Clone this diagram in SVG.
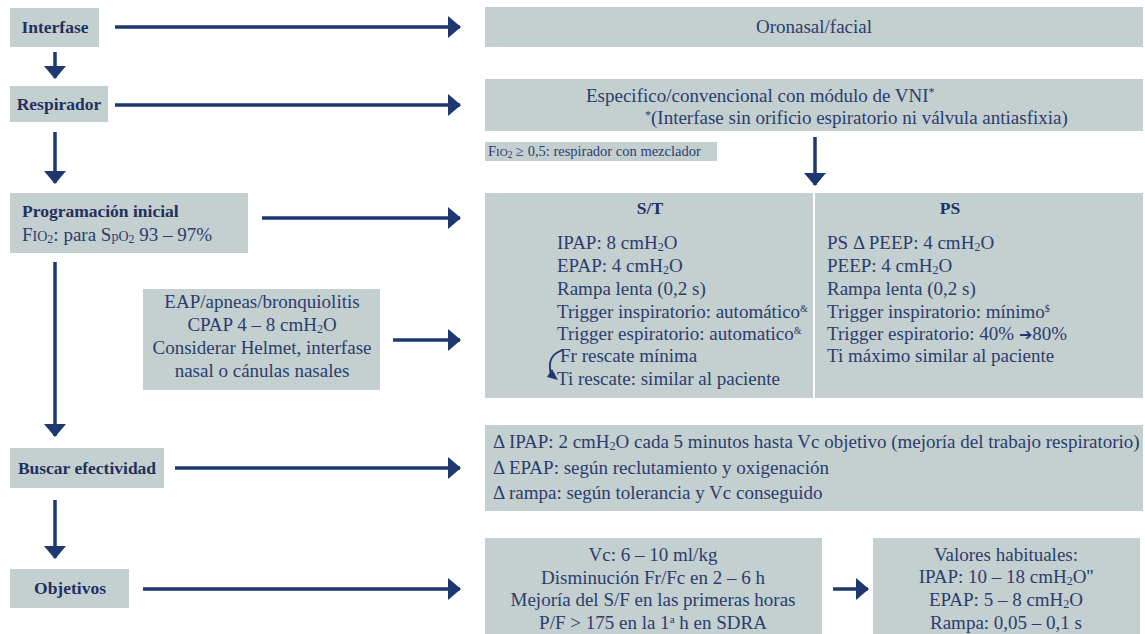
<svg xmlns="http://www.w3.org/2000/svg" width="1145" height="634" viewBox="0 0 1145 634">
<defs>
<marker id="ah" viewBox="0 0 13 22" refX="12" refY="11" markerWidth="13" markerHeight="22" markerUnits="userSpaceOnUse" orient="auto">
<path d="M0,0 L13,11 L0,22 z" fill="#1e3770"/>
</marker>
</defs>
<rect width="1145" height="634" fill="#ffffff"/>
<g font-family="Liberation Serif" font-size="19" fill="#2b3d6e">
<g id="n-interfase">
<rect fill="#c4cfcf" x="10" y="8" width="89" height="39"/>
<text font-size="17.5" font-weight="bold" fill="#1f315f" text-anchor="middle" x="55" y="33">Interfase</text>
</g>
<g id="n-respirador">
<rect fill="#c4cfcf" x="10" y="86" width="98" height="36"/>
<text font-size="17.5" font-weight="bold" fill="#1f315f" text-anchor="middle" x="59" y="110">Respirador</text>
</g>
<g id="n-programacion">
<rect fill="#c4cfcf" x="10" y="193" width="238" height="60"/>
<text font-size="17.5" font-weight="bold" fill="#1f315f" x="22" y="217">Programación inicial</text>
<text x="22" y="241">F<tspan font-size="14">IO</tspan><tspan font-size="12" dy="2">2</tspan><tspan dy="-2">: para S</tspan><tspan font-size="14">pO</tspan><tspan font-size="12" dy="2">2</tspan><tspan dy="-2"> 93 – 97%</tspan></text>
</g>
<g id="n-eap" text-anchor="middle">
<rect fill="#c4cfcf" x="143" y="289" width="237" height="101"/>
<text x="262" y="308">EAP/apneas/bronquiolitis</text>
<text x="262" y="331">CPAP 4 – 8 cmH<tspan font-size="12" dy="2">2</tspan><tspan dy="-2">O</tspan></text>
<text x="262" y="354">Considerar Helmet, interfase</text>
<text x="262" y="377">nasal o cánulas nasales</text>
</g>
<g id="n-buscar">
<rect fill="#c4cfcf" x="10" y="448" width="154" height="40"/>
<text font-size="17.5" font-weight="bold" fill="#1f315f" text-anchor="middle" x="87" y="474">Buscar efectividad</text>
</g>
<g id="n-objetivos">
<rect fill="#c4cfcf" x="10" y="569" width="119" height="39"/>
<text font-size="17.5" font-weight="bold" fill="#1f315f" text-anchor="middle" x="70" y="594">Objetivos</text>
</g>

<g id="n-oronasal">
<rect fill="#c4cfcf" x="485" y="7" width="658" height="40"/>
<text text-anchor="middle" x="814" y="33">Oronasal/facial</text>
</g>
<g id="n-especifico">
<rect fill="#c4cfcf" x="485" y="79" width="658" height="52"/>
<text x="586" y="102">Especifico/convencional con módulo de VNI<tspan font-size="12" dy="-6">*</tspan></text>
<text x="645" y="124"><tspan font-size="12" dy="-5">*</tspan><tspan dy="5">(Interfase sin orificio espiratorio ni válvula antiasfixia)</tspan></text>
</g>
<g id="n-fio2">
<rect fill="#c4cfcf" x="485" y="142" width="232" height="19"/>
<text font-size="14.5" x="488" y="156">F<tspan font-size="11">IO</tspan><tspan font-size="9.5" dy="2">2</tspan><tspan dy="-2"> ≥ 0,5: respirador con mezclador</tspan></text>
</g>
<g id="n-st">
<rect fill="#c4cfcf" x="485" y="193" width="328" height="205"/>
<text font-size="17.5" font-weight="bold" fill="#1f315f" text-anchor="middle" x="650" y="214">S/T</text>
<text x="557" y="249">IPAP: 8 cmH<tspan font-size="12" dy="2">2</tspan><tspan dy="-2">O</tspan></text>
<text x="557" y="272">EPAP: 4 cmH<tspan font-size="12" dy="2">2</tspan><tspan dy="-2">O</tspan></text>
<text x="557" y="295">Rampa lenta (0,2 s)</text>
<text x="557" y="318">Trigger inspiratorio: automático<tspan font-size="10" dy="-6">&amp;</tspan></text>
<text x="557" y="340">Trigger espiratorio: automatico<tspan font-size="10" dy="-6">&amp;</tspan></text>
<text x="560" y="362">Fr rescate mínima</text>
<text x="557" y="385">Ti rescate: similar al paciente</text>
<path d="M563,350 Q546,355 551,374" stroke="#1e3770" stroke-width="1.8" fill="none"/>
<polygon points="558,380 547,377 552,369" fill="#1e3770"/>
</g>
<g id="n-ps">
<rect fill="#c4cfcf" x="815" y="193" width="328" height="205"/>
<text font-size="17.5" font-weight="bold" fill="#1f315f" text-anchor="middle" x="950" y="214">PS</text>
<text x="827" y="249">PS Δ PEEP: 4 cmH<tspan font-size="12" dy="2">2</tspan><tspan dy="-2">O</tspan></text>
<text x="827" y="272">PEEP: 4 cmH<tspan font-size="12" dy="2">2</tspan><tspan dy="-2">O</tspan></text>
<text x="827" y="295">Rampa lenta (0,2 s)</text>
<text x="827" y="318">Trigger inspiratorio: mínimo<tspan font-size="10" dy="-6">$</tspan></text>
<text x="827" y="340">Trigger espiratorio: 40% <tspan font-family="DejaVu Sans" font-size="16" fill="#1e3770">➔</tspan>80%</text>
<text x="827" y="362">Ti máximo similar al paciente</text>
</g>
<g id="n-efectividad">
<rect fill="#c4cfcf" x="485" y="425" width="658" height="86"/>
<text x="493" y="448">Δ IPAP: 2 cmH<tspan font-size="12" dy="2">2</tspan><tspan dy="-2">O cada 5 minutos hasta Vc objetivo (mejoría del trabajo respiratorio)</tspan></text>
<text x="493" y="474">Δ EPAP: según reclutamiento y oxigenación</text>
<text x="493" y="499">Δ rampa: según tolerancia y Vc conseguido</text>
</g>
<g id="n-objetivos-detalle" text-anchor="middle">
<rect fill="#c4cfcf" x="485" y="538" width="337" height="96"/>
<text x="653" y="561">Vc: 6 – 10 ml/kg</text>
<text x="653" y="584">Disminución Fr/Fc en 2 – 6 h</text>
<text x="653" y="606">Mejoría del S/F en las primeras horas</text>
<text x="653" y="629">P/F &gt; 175 en la 1<tspan font-size="11" dy="-6">a</tspan><tspan dy="6"> h en SDRA</tspan></text>
</g>
<g id="n-valores" text-anchor="middle">
<rect fill="#c4cfcf" x="873" y="538" width="267" height="96"/>
<text x="1006" y="561">Valores habituales:</text>
<text x="1006" y="583">IPAP: 10 – 18 cmH<tspan font-size="12" dy="2">2</tspan><tspan dy="-2">O''</tspan></text>
<text x="1006" y="606">EPAP: 5 – 8 cmH<tspan font-size="12" dy="2">2</tspan><tspan dy="-2">O</tspan></text>
<text x="1006" y="629">Rampa: 0,05 – 0,1 s</text>
</g>
</g>
<g id="connectors" stroke="#1e3770" stroke-width="3.5" fill="none">
<line x1="115" y1="27" x2="460" y2="27" marker-end="url(#ah)"/>
<line x1="115" y1="105" x2="460" y2="105" marker-end="url(#ah)"/>
<line x1="262" y1="218" x2="460" y2="218" marker-end="url(#ah)"/>
<line x1="393" y1="340" x2="460" y2="340" marker-end="url(#ah)"/>
<line x1="175" y1="468" x2="460" y2="468" marker-end="url(#ah)"/>
<line x1="143" y1="589" x2="460" y2="589" marker-end="url(#ah)"/>
<line x1="833" y1="589" x2="868" y2="589" marker-end="url(#ah)"/>
<line x1="55" y1="52" x2="55" y2="78" marker-end="url(#ah)"/>
<line x1="55" y1="132" x2="55" y2="183" marker-end="url(#ah)"/>
<line x1="55" y1="262" x2="55" y2="436" marker-end="url(#ah)"/>
<line x1="55" y1="500" x2="55" y2="558" marker-end="url(#ah)"/>
<line x1="815" y1="137" x2="815" y2="185" marker-end="url(#ah)"/>
</g>
</svg>
